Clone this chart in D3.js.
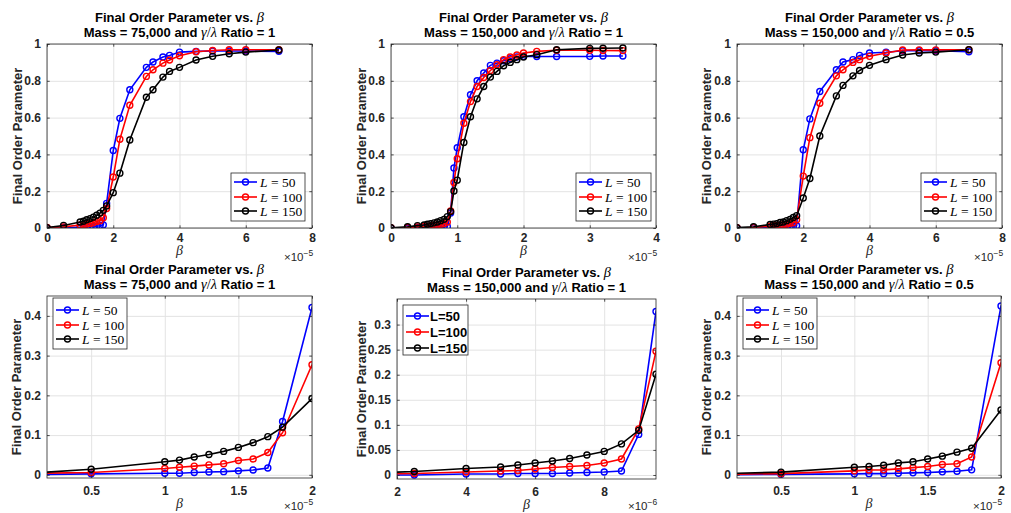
<!DOCTYPE html>
<html><head><meta charset="utf-8">
<script src="https://cdn.jsdelivr.net/npm/d3@7"></script>
<style>body{margin:0;background:#fff}</style>
</head><body>
<svg id="c" width="1011" height="513" xmlns="http://www.w3.org/2000/svg"></svg>
<script>
// ---------- DATA ----------
// beta in units of 1e-5
const betaA = [0,0.5,1,1.1,1.2,1.3,1.4,1.5,1.6,1.7,1.8,2,2.2,2.5,3,3.2,3.5,3.7,4,4.5,5,5.5,6,7];
const betaB = [0,0.25,0.4,0.5,0.55,0.6,0.65,0.7,0.75,0.8,0.85,0.9,0.95,1.0,1.1,1.2,1.3,1.4,1.5,1.6,1.7,1.8,1.9,2.0,2.2,2.5,3.0,3.2,3.5];

// Mass = 75,000, ratio = 1
const m75_L50  = [0,0.0025,0.004,0.004,0.006,0.007,0.008,0.01,0.012,0.017,0.134,0.421,0.596,0.751,0.873,0.902,0.929,0.938,0.956,0.96,0.962,0.962,0.962,0.96];
const m75_L100 = [0.003,0.006,0.016,0.019,0.022,0.025,0.028,0.036,0.04,0.056,0.106,0.277,0.482,0.667,0.824,0.86,0.896,0.913,0.936,0.958,0.965,0.969,0.969,0.969];
const m75_L150 = [0.002,0.014,0.033,0.037,0.045,0.051,0.059,0.069,0.081,0.096,0.12,0.192,0.298,0.478,0.711,0.751,0.82,0.851,0.873,0.913,0.933,0.947,0.956,0.967];

// Mass = 150,000, ratio = 1
const m150_L50  = [0,0,0.002,0.002,0.003,0.003,0.003,0.004,0.005,0.006,0.008,0.081,0.326,0.436,0.605,0.724,0.8,0.842,0.884,0.896,0.909,0.92,0.93,0.933,0.932,0.932,0.933,0.935,0.935];
const m150_L100 = [0.001,0.003,0.006,0.008,0.009,0.012,0.015,0.017,0.019,0.024,0.032,0.092,0.247,0.376,0.569,0.687,0.769,0.818,0.856,0.887,0.915,0.929,0.94,0.951,0.96,0.966,0.966,0.965,0.964];
const m150_L150 = [0.001,0.007,0.013,0.016,0.02,0.024,0.028,0.033,0.04,0.047,0.062,0.089,0.201,0.26,0.465,0.605,0.702,0.769,0.82,0.851,0.882,0.9,0.915,0.929,0.942,0.969,0.976,0.977,0.978];

// Mass = 150,000, ratio = 0.5
const r05_L50  = [0,0.001,0.0025,0.003,0.003,0.004,0.005,0.006,0.0075,0.009,0.0125,0.425,0.593,0.742,0.86,0.902,0.915,0.938,0.951,0.955,0.963,0.963,0.963,0.958];
const r05_L100 = [0.001,0.003,0.01,0.012,0.0125,0.015,0.018,0.021,0.026,0.028,0.045,0.282,0.491,0.678,0.827,0.86,0.9,0.915,0.933,0.951,0.967,0.968,0.968,0.969];
const r05_L150 = [0.002,0.0067,0.019,0.021,0.024,0.03,0.033,0.04,0.047,0.057,0.067,0.163,0.269,0.5,0.718,0.775,0.827,0.856,0.884,0.915,0.94,0.951,0.956,0.969];

const seriesNames = ["50","100","150"];
const seriesColors = ["#0000ff","#ff0000","#000000"];

const xTicksTop8 = [0,2,4,6,8];
const xTicksTop4 = [0,1,2,3,4];
const yTicksTop = [0,0.2,0.4,0.6,0.8,1];
const xTicksZoom = [0.5,1,1.5,2];
const xTicksZoomB = [2,4,6,8];
const yTicksZoom = [0,0.1,0.2,0.3,0.4];
const yTicksZoomB = [0,0.05,0.1,0.15,0.2,0.25,0.3];

// ---------- LAYOUT ----------
const panels = [
 {x0:47,x1:312,y0:44,y1:228, beta:betaA, bscale:1, ys:[m75_L50,m75_L100,m75_L150], xd:[0,8], yd:[0,1], xt:xTicksTop8, yt:yTicksTop, exp:"5", mass:"75,000", ratio:"1", leg:{x:231,y:173,w:74,h:48,tex:true,pos:[9,24,38]}, ylx:18, row:0},
 {x0:391,x1:656,y0:44,y1:228, beta:betaB, bscale:1, ys:[m150_L50,m150_L100,m150_L150], xd:[0,4], yd:[0,1], xt:xTicksTop4, yt:yTicksTop, exp:"5", mass:"150,000", ratio:"1", leg:{x:576,y:173,w:75,h:48,tex:true,pos:[9,24,38]}, ylx:362, row:0},
 {x0:737,x1:1002,y0:44,y1:228, beta:betaA, bscale:1, ys:[r05_L50,r05_L100,r05_L150], xd:[0,8], yd:[0,1], xt:xTicksTop8, yt:yTicksTop, exp:"5", mass:"150,000", ratio:"0.5", leg:{x:921,y:173,w:75,h:48,tex:true,pos:[9,24,38]}, ylx:707, row:0},
 {x0:47,x1:312,y0:296,y1:478, beta:betaA, bscale:1, ys:[m75_L50,m75_L100,m75_L150], xd:[0.2,2], yd:[-0.008,0.45], xt:xTicksZoom, yt:yTicksZoom, exp:"5", mass:"75,000", ratio:"1", leg:{x:53,y:298,w:74,h:51,tex:true,pos:[12,27,41]}, ylx:17, row:1},
 {x0:397,x1:656,y0:299,y1:479, beta:betaB, bscale:10, ys:[m150_L50,m150_L100,m150_L150], xd:[2,9.5], yd:[-0.008,0.351], xt:xTicksZoomB, yt:yTicksZoomB, exp:"6", mass:"150,000", ratio:"1", leg:{x:403,y:305,w:65,h:50,tex:false,pos:[11,27,43]}, ylx:362, row:1},
 {x0:737,x1:1001,y0:296,y1:478, beta:betaA, bscale:1, ys:[r05_L50,r05_L100,r05_L150], xd:[0.2,2], yd:[-0.008,0.45], xt:xTicksZoom, yt:yTicksZoom, exp:"5", mass:"150,000", ratio:"0.5", leg:{x:743,y:298,w:74,h:51,tex:true,pos:[12,27,41]}, ylx:707, row:1}
];

const svg = d3.select("#c");
const SANS = "'Liberation Sans', Arial, Helvetica, sans-serif";
const SERIF = "'Liberation Serif', 'Times New Roman', serif";
const AX = "#262626";
const fmt = d => String(+d.toFixed(3));

panels.forEach((p, i) => {
  const x = d3.scaleLinear().domain(p.xd).range([p.x0, p.x1]);
  const y = d3.scaleLinear().domain(p.yd).range([p.y1, p.y0]);
  const g = svg.append("g");
  const w = p.x1 - p.x0, h = p.y1 - p.y0;
  const rowOff = p.row ? 3 : 0;

  const cid = "clip" + i;
  svg.append("clipPath").attr("id", cid).append("rect")
    .attr("x", p.x0).attr("y", p.y0).attr("width", w).attr("height", h);

  g.append("rect").attr("x", p.x0).attr("y", p.y0).attr("width", w).attr("height", h).attr("fill", "#fff");

  // grid
  const gx = g.append("g").attr("transform", `translate(0,${p.y1})`)
    .call(d3.axisBottom(x).tickValues(p.xt).tickSize(-h).tickFormat(""));
  const gy = g.append("g").attr("transform", `translate(${p.x0},0)`)
    .call(d3.axisLeft(y).tickValues(p.yt).tickSize(-w).tickFormat(""));
  [gx, gy].forEach(a => { a.select(".domain").remove(); a.selectAll("line").attr("stroke", "#e3e3e3").attr("stroke-width", 1); });

  // data
  const dg = g.append("g").attr("clip-path", `url(#${cid})`);
  p.ys.forEach((vals, k) => {
    const pts = p.beta.map((b, j) => [b * p.bscale, vals[j]]);
    dg.append("path").datum(pts)
      .attr("d", d3.line().x(d => x(d[0])).y(d => y(d[1])))
      .attr("fill", "none").attr("stroke", seriesColors[k]).attr("stroke-width", 1.6);
    dg.selectAll(null).data(pts).enter().append("circle")
      .attr("cx", d => x(d[0])).attr("cy", d => y(d[1])).attr("r", 3)
      .attr("fill", "none").attr("stroke", seriesColors[k]).attr("stroke-width", 1.4);
  });

  // ticks inside on all four sides
  const tk = 2.7;
  const ab = g.append("g").attr("transform", `translate(0,${p.y1})`)
    .call(d3.axisBottom(x).tickValues(p.xt).tickSizeInner(-tk).tickSizeOuter(0).tickFormat(fmt));
  const at = g.append("g").attr("transform", `translate(0,${p.y0})`)
    .call(d3.axisTop(x).tickValues(p.xt).tickSizeInner(-tk).tickSizeOuter(0).tickFormat(""));
  const al = g.append("g").attr("transform", `translate(${p.x0},0)`)
    .call(d3.axisLeft(y).tickValues(p.yt).tickSizeInner(-tk).tickSizeOuter(0).tickPadding(6).tickFormat(fmt));
  const ar = g.append("g").attr("transform", `translate(${p.x1},0)`)
    .call(d3.axisRight(y).tickValues(p.yt).tickSizeInner(-tk).tickSizeOuter(0).tickFormat(""));
  [ab, at, al, ar].forEach(a => {
    a.select(".domain").remove();
    a.selectAll("line").attr("stroke", AX).attr("stroke-width", 0.8);
    a.selectAll("text").attr("fill", AX).attr("font-family", SANS).attr("font-weight", "bold").attr("font-size", 12);
  });
  ab.selectAll("text").attr("dy", null).attr("y", 14 + rowOff);

  // box
  g.append("rect").attr("x", p.x0).attr("y", p.y0).attr("width", w).attr("height", h)
    .attr("fill", "none").attr("stroke", AX).attr("stroke-width", 0.8);

  // title
  const cx = (p.x0 + p.x1) / 2;
  const t1 = g.append("text").attr("x", cx).attr("y", p.y0 - 22).attr("text-anchor", "middle")
    .attr("font-family", SANS).attr("font-weight", "bold").attr("font-size", 13).attr("fill", "#000");
  t1.append("tspan").text("Final Order Parameter vs. ");
  t1.append("tspan").attr("font-family", SERIF).attr("font-style", "italic").attr("font-weight", "normal").attr("font-size", 14.5).text("β");
  const t2 = g.append("text").attr("x", cx).attr("y", p.y0 - 7).attr("text-anchor", "middle")
    .attr("font-family", SANS).attr("font-weight", "bold").attr("font-size", 13).attr("fill", "#000");
  t2.append("tspan").text(`Mass = ${p.mass} and `);
  t2.append("tspan").attr("font-family", SERIF).attr("font-style", "italic").attr("font-weight", "normal").attr("font-size", 14.5).text("γ");
  t2.append("tspan").attr("font-family", SERIF).attr("font-weight", "normal").attr("font-size", 14.5).text("/");
  t2.append("tspan").attr("font-family", SERIF).attr("font-style", "italic").attr("font-weight", "normal").attr("font-size", 14.5).text("λ");
  t2.append("tspan").text(` Ratio = ${p.ratio}`);

  // y label
  g.append("text").attr("transform", `translate(${p.ylx + 4},${(p.y0 + p.y1) / 2}) rotate(-90)`)
    .attr("text-anchor", "middle").attr("font-family", SANS).attr("font-weight", "bold").attr("font-size", 13)
    .attr("fill", AX).text("Final Order Parameter");

  // x label
  g.append("text").attr("x", cx).attr("y", p.y1 + 27 + rowOff).attr("text-anchor", "middle")
    .attr("font-family", SERIF).attr("font-style", "italic").attr("font-size", 14).attr("fill", AX).text("β");

  // exponent
  const ex = g.append("text").attr("x", p.x1 - 28).attr("y", Math.min(p.y1 + 33, 510))
    .attr("font-family", SANS).attr("font-size", 11.5).attr("fill", AX);
  ex.append("tspan").text("×10");
  ex.append("tspan").attr("dy", -5).attr("font-size", 8.5).text("−" + p.exp);

  // legend
  const L = p.leg;
  const lg = g.append("g");
  lg.append("rect").attr("x", L.x).attr("y", L.y).attr("width", L.w).attr("height", L.h)
    .attr("fill", "#fff").attr("stroke", AX).attr("stroke-width", 0.8);
  seriesNames.forEach((nm, k) => {
    const yy = L.y + L.pos[k];
    lg.append("line").attr("x1", L.x + 3).attr("x2", L.x + 26).attr("y1", yy).attr("y2", yy)
      .attr("stroke", seriesColors[k]).attr("stroke-width", 1.6);
    lg.append("circle").attr("cx", L.x + 14.5).attr("cy", yy).attr("r", 3)
      .attr("fill", "none").attr("stroke", seriesColors[k]).attr("stroke-width", 1.4);
    if (L.tex) {
      const t = lg.append("text").attr("x", L.x + 29).attr("y", yy + 4.5)
        .attr("font-family", SERIF).attr("font-size", 13.5).attr("fill", "#000");
      t.append("tspan").attr("font-style", "italic").text("L");
      t.append("tspan").text(" = " + nm);
    } else {
      lg.append("text").attr("x", L.x + 27).attr("y", yy + 4.5)
        .attr("font-family", SANS).attr("font-weight", "bold").attr("font-size", 13).attr("fill", "#000")
        .text("L=" + nm);
    }
  });
});
</script>
</body></html>
